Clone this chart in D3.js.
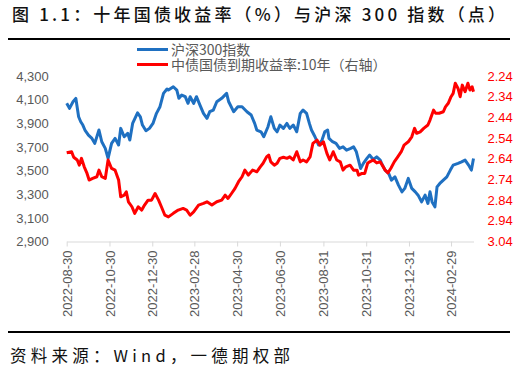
<!DOCTYPE html>
<html>
<head>
<meta charset="utf-8">
<script src="https://cdn.jsdelivr.net/npm/d3@7"></script>
<style>
  body { margin: 0; background: #fff; }
  text { font-family: "Liberation Sans", Arial, sans-serif; }
  .cjk { font-family: "Noto Sans CJK SC", sans-serif; }
</style>
</head>
<body>
<svg id="chart" width="527" height="372"></svg>
<script>
// days counted from 2022-08-30
const startDate = new Date(2022, 7, 30);

const hsDays = [0,4,9,13,17,20,23,26,31,36,40,46,50,55,59,64,69,74,77,82,87,90,94,101,105,108,113,118,123,128,133,138,143,145,152,157,160,164,169,173,176,181,185,190,195,200,204,209,214,221,228,231,238,244,250,257,263,268,271,277,281,287,291,296,300,304,309,314,318,323,328,333,337,342,346,349,354,359,364,368,372,374,379,384,389,394,399,405,409,413,416,419,423,428,432,437,442,447,449,454,459,463,468,473,478,482,487,492,497,501,506,511,515,518,521,525,528,532,537,542,547,551,558,563,568,573,577,580];
const hsValues = [4069,4026,4082,4111,3955,3913,3885,3843,3800,3772,3730,3843,3744,3688,3603,3730,3772,3716,3857,3786,3815,3758,3899,3989,3955,3885,3837,3857,3899,3984,4040,4153,4190,4181,4209,4181,4111,4139,4125,4069,4125,4069,4125,4054,3984,3942,3998,4012,4082,4111,4153,4082,3998,4040,4040,3998,3970,3899,3843,3828,3786,3871,3955,3857,3828,3885,3857,3899,3857,3885,3828,3984,4012,3984,3899,3843,3786,3716,3758,3828,3843,3772,3744,3730,3688,3701,3673,3688,3701,3659,3589,3518,3561,3603,3631,3594,3616,3589,3561,3504,3476,3419,3447,3377,3320,3349,3434,3349,3320,3292,3235,3292,3222,3320,3235,3193,3362,3391,3419,3447,3504,3546,3561,3574,3589,3546,3504,3603];

const bondDays = [0,7,10,15,18,21,25,29,32,37,43,46,50,55,59,64,69,74,77,82,85,88,93,97,102,107,111,116,121,126,131,135,140,145,152,159,166,171,176,181,188,195,200,207,214,221,226,230,235,240,245,250,254,259,265,271,276,280,285,288,291,296,300,304,309,314,318,323,328,333,337,342,347,351,357,361,366,371,375,380,385,390,394,398,404,409,414,416,421,425,429,432,437,442,447,454,458,462,467,472,477,481,487,492,496,499,504,509,515,518,523,526,531,537,540,544,548,551,554,558,561,564,568,572,575,578,580];
const bondValues = [2.611,2.606,2.633,2.646,2.671,2.638,2.679,2.711,2.743,2.735,2.727,2.695,2.727,2.735,2.646,2.687,2.695,2.743,2.824,2.816,2.800,2.848,2.872,2.904,2.872,2.888,2.864,2.840,2.840,2.808,2.840,2.872,2.913,2.921,2.904,2.888,2.880,2.888,2.913,2.897,2.864,2.856,2.848,2.864,2.848,2.840,2.816,2.832,2.808,2.783,2.751,2.727,2.695,2.719,2.695,2.703,2.679,2.662,2.631,2.622,2.655,2.671,2.662,2.638,2.633,2.638,2.631,2.646,2.606,2.655,2.646,2.655,2.631,2.566,2.550,2.574,2.558,2.614,2.646,2.606,2.646,2.655,2.695,2.679,2.671,2.695,2.695,2.719,2.711,2.711,2.662,2.655,2.646,2.660,2.655,2.695,2.708,2.687,2.655,2.631,2.606,2.574,2.558,2.534,2.493,2.517,2.510,2.493,2.477,2.453,2.405,2.420,2.420,2.413,2.389,2.372,2.340,2.324,2.275,2.300,2.340,2.284,2.316,2.275,2.308,2.292,2.316];

const leftTicks = [2900,3100,3300,3500,3700,3900,4100,4300];
const rightTicks = [2.24,2.34,2.44,2.54,2.64,2.74,2.84,2.94,3.04];
const xTickLabels = ['2022-08-30','2022-10-30','2022-12-30','2023-02-28','2023-04-30','2023-06-30','2023-08-31','2023-10-31','2023-12-31','2024-02-29'];

const titleText = '图 1.1：十年国债收益率（%）与沪深 300 指数（点）';
const sourceText = '资料来源：Wind，一德期权部';
const legendNames = ['沪深300指数', '中债国债到期收益率:10年（右轴）'];

const blue = '#1f70c1', red = '#ff0000', grey = '#595959';

const svg = d3.select('#chart');
const plotLeft = 66.7, plotRight = 473.5, plotTop = 76, plotBottom = 241.5;

const parse = d3.timeParse('%Y-%m-%d');
const x = d3.scaleTime().domain([startDate, d3.timeDay.offset(startDate, 580)]).range([plotLeft, plotRight]);
const yL = d3.scaleLinear().domain([2900, 4300]).range([plotBottom, plotTop]);
const yR = d3.scaleLinear().domain([2.24, 3.04]).range([plotTop, plotBottom]);

// title and rules
svg.append('text').attr('class', 'cjk').attr('x', 12).attr('y', 21)
  .attr('font-size', 17).attr('font-weight', 500).attr('fill', '#111')
  .attr('textLength', 493).attr('lengthAdjust', 'spacing').text(titleText);
svg.append('line').attr('x1', 8).attr('x2', 510).attr('y1', 39).attr('y2', 39).attr('stroke', '#000').attr('stroke-width', 2);
svg.append('line').attr('x1', 8).attr('x2', 510).attr('y1', 332).attr('y2', 332).attr('stroke', '#000').attr('stroke-width', 2);
svg.append('text').attr('class', 'cjk').attr('x', 10).attr('y', 362)
  .attr('font-size', 16.5).attr('fill', '#111')
  .attr('textLength', 280).attr('lengthAdjust', 'spacing').text(sourceText);

// x axis
const xAxis = d3.axisBottom(x).tickValues(xTickLabels.map(parse)).tickFormat(d3.timeFormat('%Y-%m-%d')).tickSize(5).tickSizeOuter(0);
const gx = svg.append('g').attr('transform', 'translate(0,' + plotBottom + ')').call(xAxis);
gx.select('.domain').attr('stroke', '#d9d9d9');
gx.selectAll('.tick line').attr('stroke', '#d9d9d9');
gx.selectAll('.tick text').attr('transform', 'rotate(-90)').attr('text-anchor', 'end')
  .attr('x', -9).attr('y', 0).attr('dy', '0.35em').attr('fill', grey).attr('font-size', 13);

// y axes
const gl = svg.append('g').attr('transform', 'translate(' + (plotLeft - 14) + ',0)')
  .call(d3.axisLeft(yL).tickValues(leftTicks).tickFormat(d3.format(',')).tickSize(0));
gl.select('.domain').remove();
gl.selectAll('text').attr('fill', grey).attr('font-size', 13).attr('x', -4);

const gr = svg.append('g').attr('transform', 'translate(' + (plotRight + 10) + ',0)')
  .call(d3.axisRight(yR).tickValues(rightTicks).tickFormat(d => d.toFixed(2)).tickSize(0));
gr.select('.domain').remove();
gr.selectAll('text').attr('fill', red).attr('font-size', 13).attr('x', 4);

// lines
const hsData = hsDays.map((d, i) => ({ date: d3.timeDay.offset(startDate, d), v: hsValues[i] }));
const bondData = bondDays.map((d, i) => ({ date: d3.timeDay.offset(startDate, d), v: bondValues[i] }));

svg.append('path').datum(hsData).attr('fill', 'none').attr('stroke', blue).attr('stroke-width', 3).attr('stroke-linejoin', 'round')
  .attr('d', d3.line().x(d => x(d.date)).y(d => yL(d.v)));
svg.append('path').datum(bondData).attr('fill', 'none').attr('stroke', red).attr('stroke-width', 3).attr('stroke-linejoin', 'round')
  .attr('d', d3.line().x(d => x(d.date)).y(d => yR(d.v)));

// legend
const legend = svg.append('g');
[blue, red].forEach((c, i) => {
  const ly = 49.5 + i * 15;
  legend.append('line').attr('x1', 137).attr('x2', 168).attr('y1', ly).attr('y2', ly).attr('stroke', c).attr('stroke-width', 3);
  legend.append('text').attr('class', 'cjk').attr('x', 171).attr('y', ly).attr('dy', '0.36em')
    .attr('font-size', 14).attr('fill', grey).text(legendNames[i]);
});
</script>
</body>
</html>
